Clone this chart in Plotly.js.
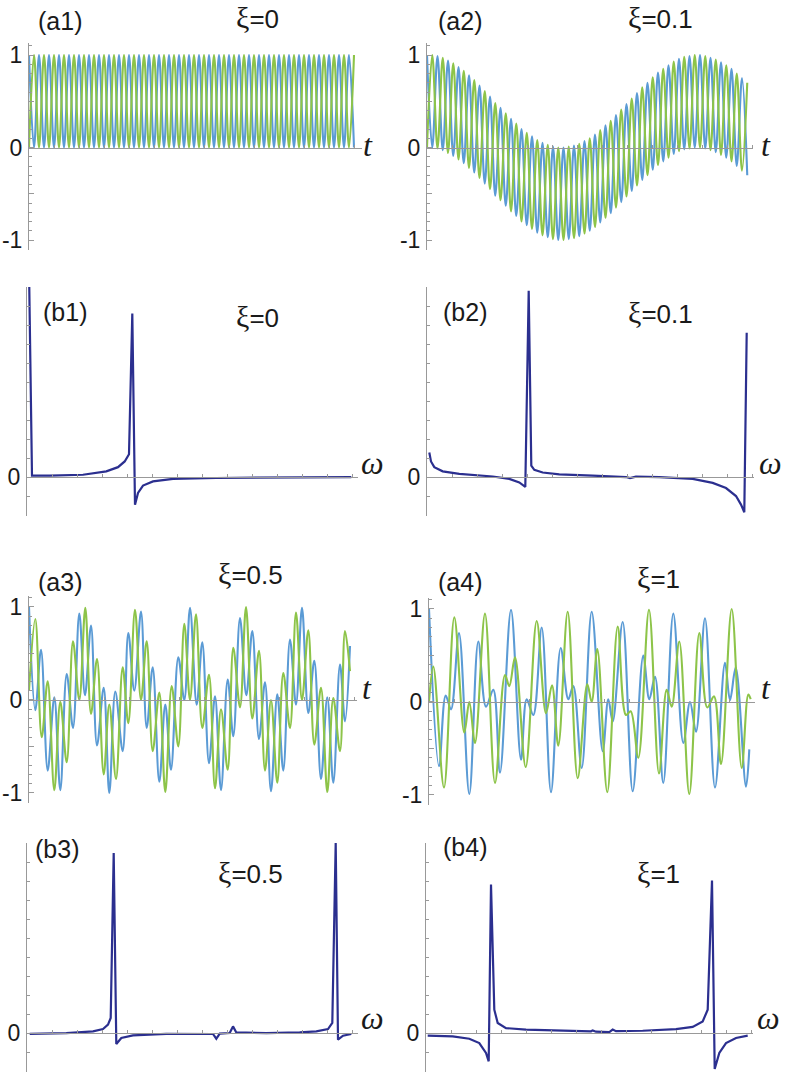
<!DOCTYPE html>
<html><head><meta charset="utf-8">
<script src="https://cdn.plot.ly/plotly-3.0.1.min.js"></script>
<style>html,body{margin:0;padding:0;background:#fff;}#chart{width:787px;height:1072px;}</style>
</head><body><div id="chart"></div>
<script>
// ---------- (a1) xi=0 : extremes of each oscillation, equally spaced in t ----------
const A1_STEP = 5.0;
const A1_BLUE  = [1,0,1,0,1,0,1,0,1,0, 1,0,1,0,1,0,1,0,1,0, 1,0,1,0,1,0,1,0,1,0, 1,0,1,0,1,0,1,0,1,0, 1,0,1,0,1,0,1,0,1,0, 1,0,1,0,1,0,1,0,1,0, 1,0,1,0,1,0];
const A1_GREEN = [0,1,0,1,0,1,0,1,0,1, 0,1,0,1,0,1,0,1,0,1, 0,1,0,1,0,1,0,1,0,1, 0,1,0,1,0,1,0,1,0,1, 0,1,0,1,0,1,0,1,0,1, 0,1,0,1,0,1,0,1,0,1, 0,1,0,1,0,1];
// ---------- (a2) xi=0.1 ----------
const A2_STEP = 5.25;
const A2_BLUE = [1.00,0.00,0.99,-0.03,0.94,-0.09,0.87,-0.17,0.78,-0.27,0.67,-0.39,0.55,-0.52,0.43,-0.63,0.31,-0.74,0.20,-0.84,
  0.12,-0.92,0.05,-0.97,0.01,-1.00,0.00,-0.99,0.02,-0.96,0.07,-0.90,0.14,-0.81,0.24,-0.71,0.35,-0.59,0.47,-0.47,
  0.59,-0.35,0.70,-0.24,0.81,-0.15,0.89,-0.07,0.96,-0.02,0.99,0.00,1.00,-0.01,0.97,-0.05,0.92,-0.11,0.85,-0.20,0.75,-0.30];
const A2_GREEN = [0.00,1.00,-0.01,0.97,-0.06,0.91,-0.13,0.83,-0.22,0.73,-0.33,0.61,-0.45,0.48,-0.57,0.37,-0.69,0.26,-0.80,0.16,
  -0.88,0.08,-0.95,0.03,-0.99,0.00,-1.00,0.01,-0.98,0.04,-0.93,0.10,-0.86,0.19,-0.76,0.29,-0.65,0.41,-0.53,0.53,
  -0.41,0.65,-0.30,0.76,-0.19,0.85,-0.11,0.93,-0.04,0.98,-0.01,1.00,0.00,0.99,-0.03,0.95,-0.08,0.89,-0.15,0.80,-0.25,0.70];
// ---------- (a3) xi=0.5 ----------
const A3_BLUE_T = [0,6.3,12,18.7,25.3,31.3,37.7,44,50.3,56,62,68,74.7,80.3,86.3,93.7,99.3,105.3,112,117.7,123.7,130.3,136.3,142,149.3,155.3,161,167.7,173.3,180,186,192,198.7,204.3,211,217.3,223.3,230,236,242,248.3,254.3,261,267,273,279.3,285.3,292,298.3,304.3,311,316,321];
const A3_BLUE_V = [1.0,-0.11,0.54,-0.76,0.03,-0.97,0.28,-0.30,0.93,0.05,0.80,-0.49,0.13,-1.0,0.09,-0.55,0.72,0.1,0.95,-0.3,0.35,-0.88,-0.05,-0.75,0.46,0.0,0.99,-0.05,0.62,-0.68,0.04,-0.97,0.22,-0.39,0.88,0.05,0.74,-0.42,0.19,-0.98,0.06,-0.76,0.65,-0.05,0.99,-0.14,0.42,-0.85,0.03,-0.89,0.38,-0.23,0.58];
const A3_GREEN_T = [0,6.3,12.7,18.7,25.3,31.3,37.7,44,50.3,56.3,62,68,74.7,80.3,87,93.7,99.3,106,112,117.7,123.7,130.3,136.3,142.7,149.3,155.3,161,167,173.3,180,186,192,198.7,204.3,211,217,223.3,230,236,242,248.3,254.3,261,267,273,279.3,285.3,292,298.3,304.3,311,316,321];
const A3_GREEN_V = [0.1,0.87,-0.40,0.20,-0.97,-0.02,-0.67,0.63,0.0,0.99,-0.15,0.44,-0.80,-0.05,-0.85,0.35,-0.25,0.97,0.0,0.63,-0.55,0.08,-0.99,0.15,-0.50,0.82,0.0,0.92,-0.3,0.27,-0.95,-0.1,-0.75,0.56,-0.08,1.0,-0.2,0.53,-0.76,0.0,-0.89,0.29,-0.3,0.94,0.0,0.75,-0.48,0.13,-0.99,0.02,-0.55,0.74,0.31];
// ---------- (a4) xi=1 ----------
const A4_BLUE_T = [0,10,16.7,22,30,40.3,49.3,57,64.3,71,82,92,97.7,104.3,112.7,122,131.7,139.3,144.3,152.7,162.7,173.7,179.3,183.7,193.7,203.7,214.3,220.3,226,234.3,244.3,254.3,261,267,276,286,296,301,306.7,317,320.3];
const A4_BLUE_V = [1.0,-0.69,0.07,-0.08,0.74,-0.99,0.65,-0.05,0.13,-0.76,0.99,-0.62,0.03,-0.14,0.80,-0.97,0.58,0.03,0.17,-0.71,0.97,-0.53,0.03,-0.21,0.86,-0.96,0.50,0.03,0.27,-0.87,0.95,-0.44,0.0,-0.32,0.90,-0.92,0.42,0.02,0.37,-0.91,-0.51];
const A4_GREEN_T = [0,4.3,15,25.3,35.3,40.3,46,56,66,76,80.3,86,96.7,107.7,117,123,129.3,138.7,148.7,158.3,162.7,168.3,178.3,188.7,197,201.7,209.3,220,230,237.7,242.7,250.3,260.3,270.3,278.3,285,292,302.7,312.7,319.3,321.7];
const A4_GREEN_V = [0.0,0.38,-0.92,0.91,-0.33,0.0,-0.44,0.95,-0.87,0.29,0.17,0.48,-0.70,0.87,-0.12,0.18,-0.47,0.97,-0.82,0.19,0.0,0.57,-0.97,0.81,-0.14,-0.10,-0.60,0.99,-0.77,0.13,-0.05,0.65,-0.99,0.74,-0.06,0.06,-0.67,1.0,-0.71,0.08,0.03];
// ---------- spectra (b1)-(b4) ----------
const B1_W = [2,5,22.7,56,79.3,91,97.7,102,105.3,108,111,116,126,146,189.3,256,324.3];
const B1_V = [1.1,0.007,0.007,0.012,0.03,0.052,0.082,0.12,0.86,-0.146,-0.084,-0.045,-0.023,-0.010,-0.005,-0.002,0.0];
const B2_W = [2.3,4,7.3,15.7,32.3,65.7,82.3,92.3,98.3,101.7,104.3,107.3,115.7,132.3,165.7,199,203,209,232.3,265.7,285.7,299,309,314,317.3,319.7];
const B2_V = [0.129,0.082,0.052,0.03,0.017,0.003,-0.01,-0.028,-0.052,0.98,0.06,0.038,0.024,0.014,0.007,0.0,-0.006,0.002,0.0,-0.01,-0.031,-0.058,-0.10,-0.145,-0.185,0.759];
const B3_W = [2.7,39.3,66,76,81,83.7,86.7,89.3,94.3,106,139.3,186,189.3,192.7,202.7,206,209.3,239.3,272.7,289.3,301,305.3,308.7,311,316,324.3];
const B3_V = [-0.004,0,0.009,0.021,0.044,0.079,0.947,-0.058,-0.026,-0.012,-0.004,-0.005,-0.03,-0.003,0.0,0.035,0.003,0.0,0.004,0.009,0.021,0.053,1.0,-0.035,-0.014,-0.005];
const B4_W = [1.7,26.7,43.3,53.3,60,62.7,65,68.3,71.7,80,100,133.3,165,166.7,170,183.3,186.7,190,216.7,250,266.7,276.7,281.7,286,288.7,293.3,300,310,321.7];
const B4_V = [-0.014,-0.018,-0.03,-0.053,-0.105,-0.149,0.781,0.123,0.053,0.026,0.018,0.012,0.009,0.014,0.007,0.005,0.018,0.01,0.012,0.021,0.032,0.061,0.123,0.802,-0.189,-0.105,-0.053,-0.026,-0.014];

const PANEL_LABELS = ['(a1)','(a2)','(b1)','(b2)','(a3)','(a4)','(b3)','(b4)'];
const XI_LABELS = ['0','0.1','0','0.1','0.5','1','0.5','1'];

const grid = (n, step) => Array.from({length:n}, (_, k) => k * step);

const BLUE = '#5b9bd5', GREEN = '#8dc449', NAVY = '#2b2f8f', AX = '#999999';
const W = 787, H = 1072;

// layout geometry (pixels): [x0, x1, y0, y1], y range, label positions
const P = [
  {box:[29,362,43,250],   yr:[-1.108,1.13], kind:'a', lab:[60,21],  xi:[257,18],  ax:[368,145]},
  {box:[427,753,43,250],  yr:[-1.108,1.13], kind:'a', lab:[460,21], xi:[660,18],  ax:[766,145]},
  {box:[27,358,287,516],  yr:[-0.205,1.0],  kind:'b', lab:[65,312], xi:[257,316], ax:[372,463]},
  {box:[427,754,287,516], yr:[-0.205,1.0],  kind:'b', lab:[465,312],xi:[660,312], ax:[770,463]},
  {box:[29,357,596,803],  yr:[-1.108,1.118],kind:'a', lab:[60,582], xi:[250,573], ax:[367,688]},
  {box:[429,755,598,805], yr:[-1.108,1.118],kind:'a', lab:[460,582],xi:[658,577], ax:[766,688]},
  {box:[27,358,843,1072], yr:[-0.205,1.0],  kind:'b', lab:[57,849], xi:[250,872], ax:[372,1018]},
  {box:[426,753,843,1072],yr:[-0.205,1.0],  kind:'b', lab:[465,847],xi:[658,872], ax:[768,1018]}
];

const series = [
  [[grid(A1_BLUE.length, A1_STEP), A1_BLUE], [grid(A1_GREEN.length, A1_STEP), A1_GREEN]],
  [[grid(A2_BLUE.length, A2_STEP), A2_BLUE], [grid(A2_GREEN.length, A2_STEP), A2_GREEN]],
  [[B1_W, B1_V]],
  [[B2_W, B2_V]],
  [[A3_BLUE_T, A3_BLUE_V], [A3_GREEN_T, A3_GREEN_V]],
  [[A4_BLUE_T, A4_BLUE_V], [A4_GREEN_T, A4_GREEN_V]],
  [[B3_W, B3_V]],
  [[B4_W, B4_V]]
];

const traces = [];
const layout = {
  width: W, height: H, margin:{l:0,r:0,t:0,b:0},
  paper_bgcolor:'#fff', plot_bgcolor:'rgba(0,0,0,0)', showlegend:false,
  annotations: []
};
const SANS = 'Liberation Sans, Arial, sans-serif';
const tickFont = {family:SANS, size:23, color:'#1a1a1a'};

P.forEach((p, i) => {
  const n = i + 1;
  const xs = n === 1 ? '' : String(n);
  const dx = [p.box[0]/W, p.box[1]/W];
  const dy = [1 - p.box[3]/H, 1 - p.box[2]/H];
  const pos = dy[0] + (0 - p.yr[0]) / (p.yr[1] - p.yr[0]) * (dy[1] - dy[0]);
  layout['xaxis' + xs] = {
    domain: dx, range: [0, p.box[1] - p.box[0]], anchor: 'free', position: pos,
    showline: true, linecolor: AX, linewidth: 1, ticks: 'inside', ticklen: 3, tickcolor: AX,
    tick0: 0, dtick: 25, showticklabels: false, showgrid: false, zeroline: false, fixedrange: true
  };
  const isA = p.kind === 'a';
  layout['yaxis' + xs] = {
    domain: dy, range: p.yr, anchor: 'x' + xs,
    showline: true, linecolor: AX, linewidth: 1, ticks: 'inside', ticklen: 5, tickcolor: AX,
    tickmode: 'array',
    tickvals: isA ? [-1,-0.5,0,0.5,1] : [0],
    ticktext: isA ? ['-1','','0','','1'] : ['0'],
    tickfont: tickFont, ticklabelstandoff: 1,
    minor: {ticks:'inside', ticklen: 2.5, tickcolor: AX, dtick: 0.1, tick0: 0, showgrid: false},
    showgrid: false, zeroline: false, fixedrange: true
  };
  series[i].forEach((s, j) => {
    traces.push({
      type: 'scatter', mode: 'lines', x: s[0], y: s[1],
      xaxis: 'x' + xs, yaxis: 'y' + xs, hoverinfo: 'skip',
      line: isA ? {color: j === 0 ? BLUE : GREEN, width: 2.1, shape: 'spline', smoothing: 1}
                : {color: NAVY, width: 2.2, shape: 'linear'}
    });
  });
  const ann = (xy, text, font) => layout.annotations.push({
    xref:'paper', yref:'paper', x: xy[0]/W, y: 1 - xy[1]/H, xanchor:'center', yanchor:'middle',
    text, showarrow:false, font
  });
  ann(p.lab, PANEL_LABELS[i], {family:SANS, size:25, color:'#1a1a1a'});
  ann(p.xi, '<span style="font-family:Liberation Serif;font-size:30px">ξ</span>=' + XI_LABELS[i], {family:SANS, size:26, color:'#1a1a1a'});
  ann(p.ax, isA ? '<i>t</i>' : '<i>ω</i>', {family:'Liberation Serif, Times New Roman, serif', size:32, color:'#1a1a1a'});
});

Plotly.newPlot('chart', traces, layout, {staticPlot:true, displayModeBar:false});
</script>
</body></html>
